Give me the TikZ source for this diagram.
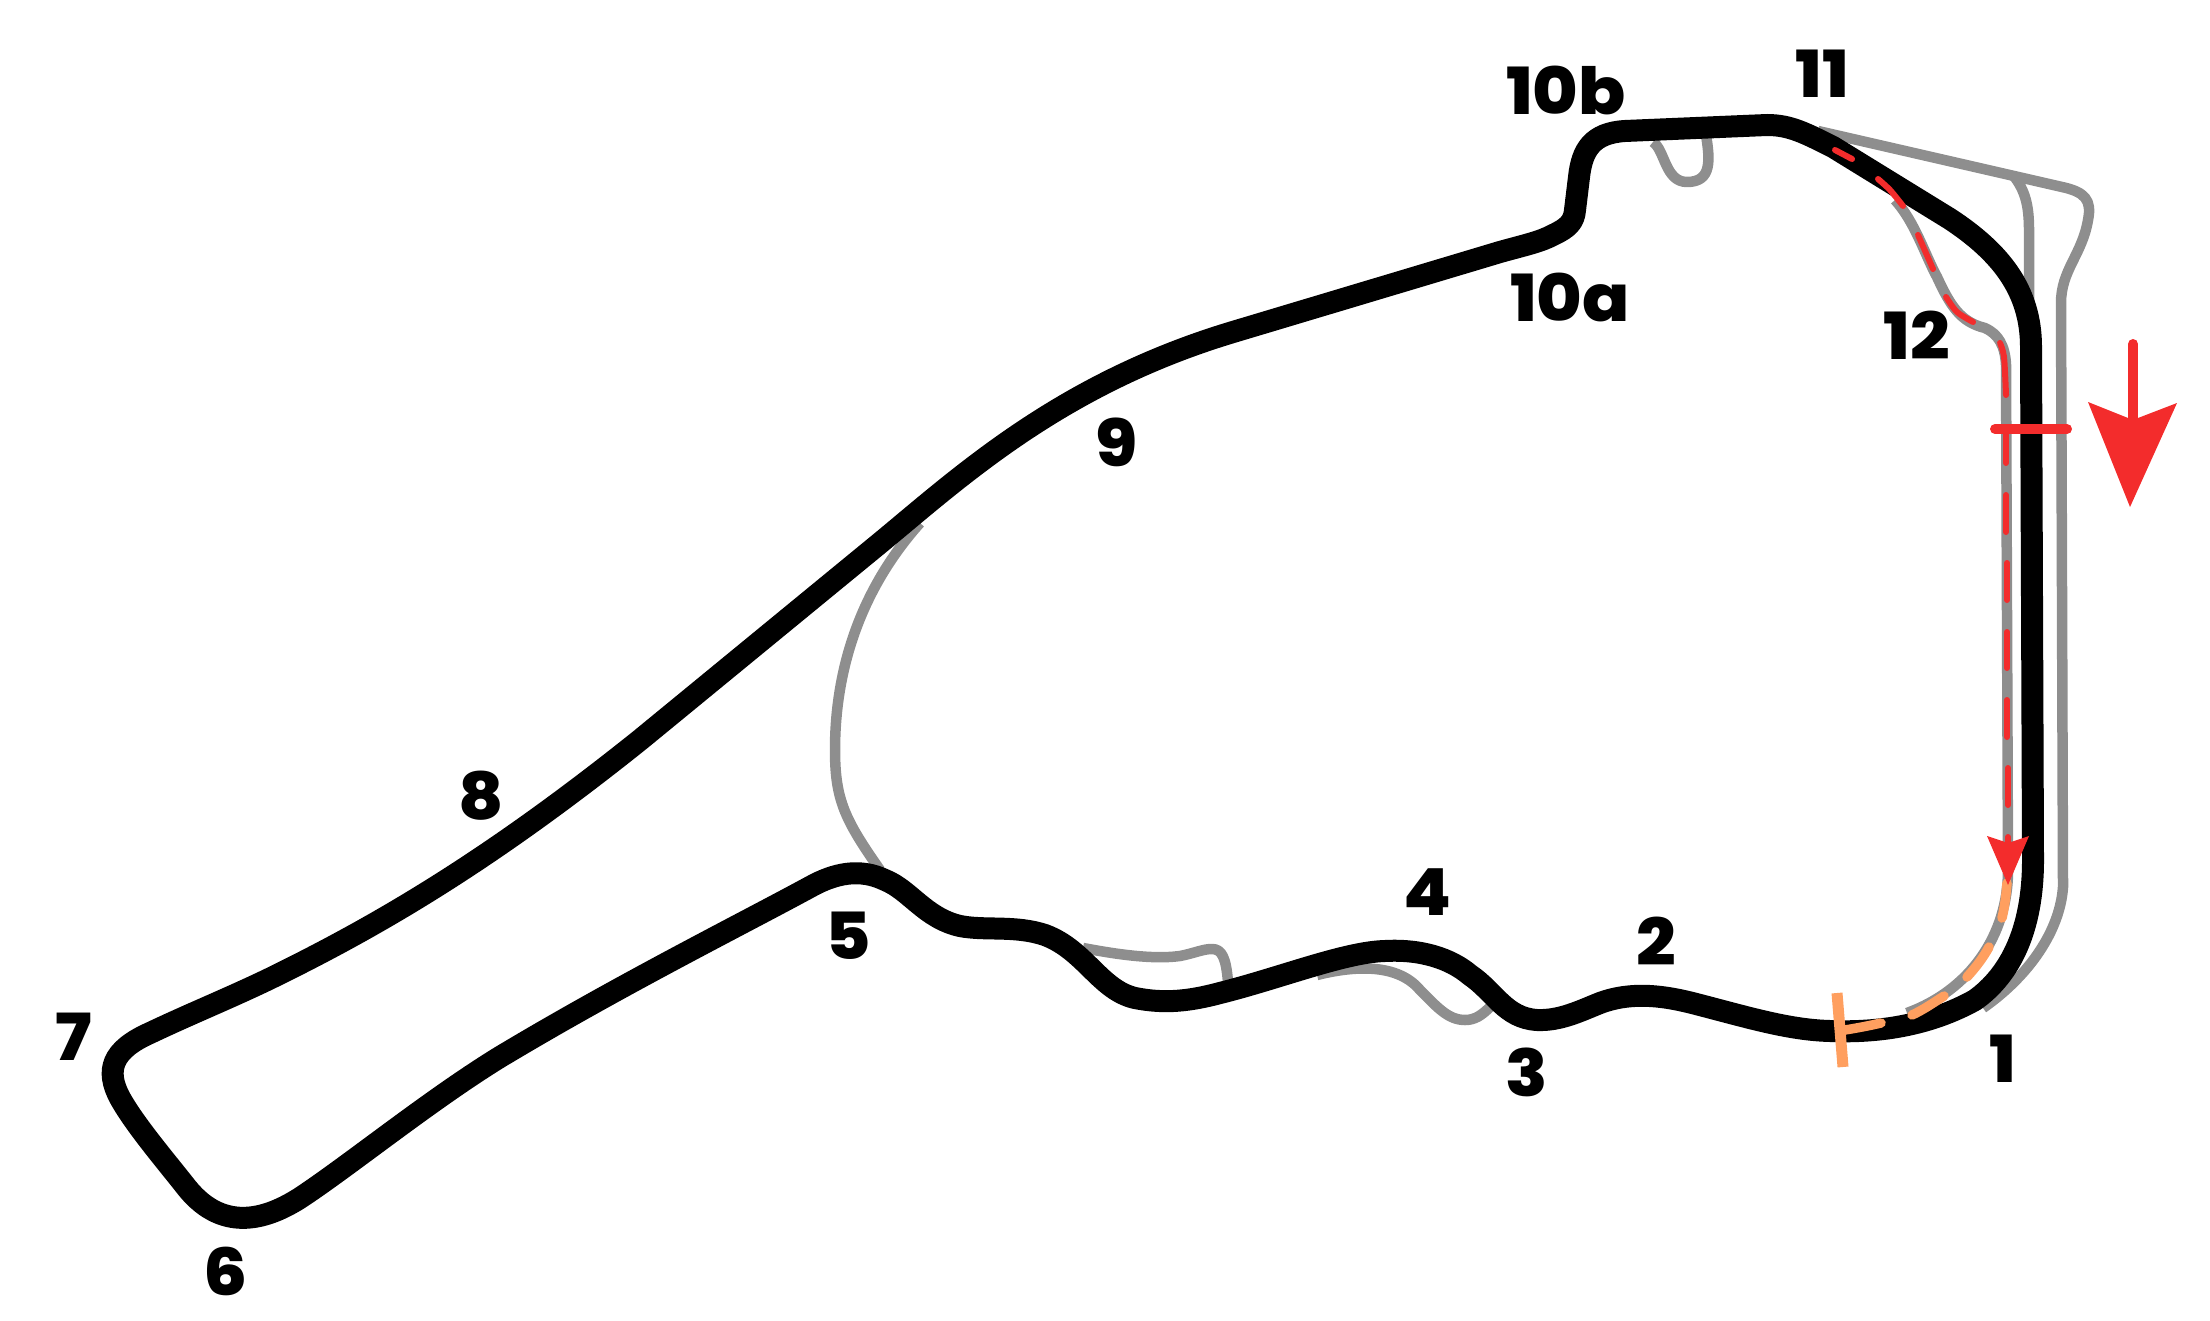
\documentclass[tikz,border=0pt]{standalone}
\usepackage{fontspec}
\newfontfamily\labfont{Poppins}[UprightFont=* ExtraBold,FakeStretch=1.07]
\definecolor{trackgrey}{HTML}{8E8E8E}
\definecolor{trackred}{HTML}{F32C2C}
\definecolor{trackorange}{HTML}{FF9F5F}
\tikzset{
  maintrack/.style={draw=black,line width=22pt,line join=round},
  oldtrack/.style={draw=trackgrey,line width=10.5pt,line join=round},
  reddash/.style={draw=trackred,line width=6pt,line cap=round,line join=round},
  orangedash/.style={draw=trackorange,line width=9.5pt,line cap=round,line join=round},
  turnlabel/.style={font=\labfont\fontsize{65}{65}\selectfont,inner sep=0pt,text=black,anchor=center},
}
\begin{document}
\begin{tikzpicture}[x=1pt,y=-1pt]
\useasboundingbox (0,0) rectangle (2210,1321);
% old track pieces
\draw[oldtrack] (1818,131) -- (2062,187) .. controls (2085,192) and (2092,200) .. (2088,220) .. controls (2082,255) and (2061,270) .. (2061,303) -- (2063,887) .. controls (2060,930) and (2030,975) .. (1983,1008);
\draw[oldtrack] (2013,175) .. controls (2025,190) and (2029,205) .. (2029,230) -- (2029,312);
\draw[oldtrack] (1895,200) .. controls (1915,222) and (1925,255) .. (1937,277) .. controls (1950,305) and (1960,322) .. (1985,328) .. controls (1998,334) and (2005,345) .. (2006,365) -- (2008,870) .. controls (2008,935) and (1970,990) .. (1907,1013);
\draw[oldtrack] (1653,142) .. controls (1665,150) and (1665,182) .. (1687,182) .. controls (1712,182) and (1710,160) .. (1706,135);
\draw[oldtrack] (1317,975) .. controls (1345,968) and (1395,960) .. (1420,990) .. controls (1437,1007) and (1448,1020) .. (1465,1020) .. controls (1475,1020) and (1482,1015) .. (1490,1007);
\draw[oldtrack] (1083,948) .. controls (1110,953) and (1150,960) .. (1180,956) .. controls (1195,953) and (1203,949) .. (1212,949) .. controls (1222,949) and (1226,958) .. (1228,982);
\draw[oldtrack] (920,523) .. controls (860,590) and (835,670) .. (835,750) .. controls (835,800) and (845,820) .. (880,870);
% main track
\draw[maintrack] (2031,347) -- (2033,860)
 .. controls (2033,930) and (2010,975) .. (1975,1000)
 .. controls (1930,1025) and (1880,1033) .. (1830,1031)
 .. controls (1790,1030) and (1750,1018) .. (1700,1005)
 .. controls (1670,997) and (1635,990) .. (1600,1003)
 .. controls (1580,1011) and (1560,1021) .. (1537,1020)
 .. controls (1505,1018) and (1495,992) .. (1470,975)
 .. controls (1450,958) and (1420,949) .. (1385,951)
 .. controls (1345,952) and (1280,978) .. (1220,993)
 .. controls (1190,1001) and (1165,1004) .. (1135,998)
 .. controls (1100,990) and (1085,950) .. (1045,935)
 .. controls (1015,925) and (985,931) .. (960,926)
 .. controls (925,918) and (910,890) .. (885,880)
 .. controls (860,868) and (835,873) .. (810,887)
 .. controls (740,925) and (620,985) .. (500,1057)
 .. controls (430,1100) and (350,1165) .. (300,1198)
 .. controls (270,1217) and (225,1235) .. (187,1188)
 .. controls (165,1160) and (135,1125) .. (120,1098)
 .. controls (105,1070) and (112,1050) .. (150,1033)
 .. controls (190,1014) and (225,1000) .. (267,980)
 .. controls (380,925) and (490,860) .. (640,740)
 -- (880,543)
 .. controls (960,477) and (1060,384) .. (1233,332)
 -- (1500,252)
 .. controls (1525,245) and (1540,242) .. (1553,235)
 .. controls (1568,228) and (1574,222) .. (1575,210)
 -- (1579,177)
 .. controls (1582,150) and (1592,133) .. (1625,131)
 -- (1767,125)
 .. controls (1790,125) and (1805,133) .. (1833,147)
 -- (1950,219)
 .. controls (2000,252) and (2031,290) .. (2031,347) -- cycle;
% red dashes
\draw[reddash] (1835,150) -- (1852,159);
\draw[reddash] plot[smooth] coordinates {(1878,179) (1890,190) (1903,206)};
\draw[reddash] (1918,235) -- (1933,269);
\draw[reddash] plot[smooth] coordinates {(1946,297) (1957,312) (1973,322)};
\draw[reddash] plot[smooth] coordinates {(2000,343) (2004,357) (2006,395)};
\draw[reddash] (2006,433) -- (2006,463);
\draw[reddash] (2006,495) -- (2006,532);
\draw[reddash] (2007,563) -- (2007,600);
\draw[reddash] (2007,632) -- (2007,668);
\draw[reddash] (2007,700) -- (2007,737);
\draw[reddash] (2008,768) -- (2008,805);
\draw[reddash] (2008,837) -- (2008,850);
% orange dashes
\draw[orangedash] (2007,883) .. controls (2006,895) and (2005,905) .. (2002,918);
\draw[orangedash] (1989,947) .. controls (1983,958) and (1976,967) .. (1967,977);
\draw[orangedash] (1944,996) .. controls (1933,1003) and (1923,1010) .. (1912,1015);
\draw[orangedash] (1881,1023) .. controls (1868,1026) and (1857,1028) .. (1845,1030);
\draw[draw=trackorange,line width=11pt] (1837,993) -- (1843,1067);
% small red arrowhead
\fill[trackred] (1987,836) -- (2008,843) -- (2029,836) -- (2008,885) -- cycle;
% finish line
\draw[draw=trackred,line width=10pt,line cap=round] (1995,429) -- (2067,429);
% direction arrow
\draw[draw=trackred,line width=10pt,line cap=round] (2133,344) -- (2133,425);
\fill[trackred] (2088,402) -- (2128,418) -- (2138,418) -- (2177,403) -- (2130,507) -- cycle;
% labels
\node[turnlabel] (t10b) at (1566,90) {10b};
\node[turnlabel] (t10a) at (1570,297) {10a};
\node[turnlabel] (t11) at (1822,74) {11};
\node[turnlabel] (t12) at (1917,335) {12};
\node[turnlabel] (t1) at (2003,1059) {1};
\node[turnlabel] (t2) at (1656,941) {2};
\node[turnlabel] (t3) at (1527,1072) {3};
\node[turnlabel] (t4) at (1428,892) {4};
\node[turnlabel] (t5) at (848,936) {5};
\node[turnlabel] (t6) at (226,1271) {6};
\node[turnlabel] (t7) at (74,1037) {7};
\node[turnlabel] (t8) at (481,796) {8};
\node[turnlabel] (t9) at (1117,442) {9};
\end{tikzpicture}
\end{document}
